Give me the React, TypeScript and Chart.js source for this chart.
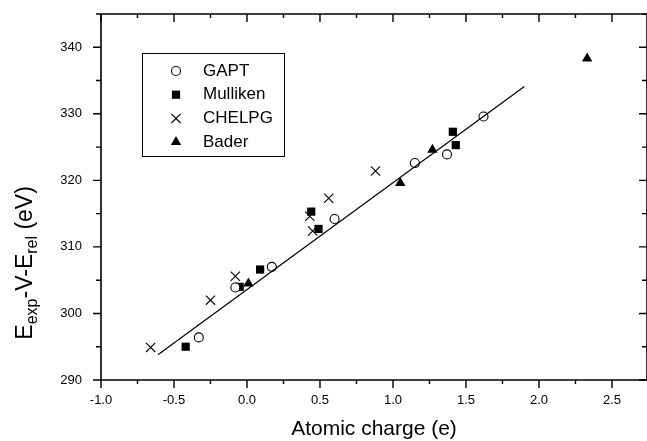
import React, { useEffect, useRef } from "react";
import { Chart, registerables } from "chart.js";

Chart.register(...registerables);

// Atomic charge (e) vs. E_exp - V - E_rel (eV) for four charge schemes
const gaptX = [-0.33, -0.08, 0.17, 0.6, 1.15, 1.37, 1.62];
const gaptY = [296.4, 303.9, 307.0, 314.2, 322.6, 323.9, 329.6];

const mullikenX = [-0.42, -0.05, 0.09, 0.44, 0.49, 1.41, 1.43];
const mullikenY = [295.0, 304.0, 306.6, 315.3, 312.7, 327.3, 325.3];

const chelpgX = [-0.66, -0.25, -0.08, 0.43, 0.45, 0.56, 0.88];
const chelpgY = [294.9, 302.0, 305.6, 314.6, 312.4, 317.3, 321.4];

const baderX = [0.01, 1.05, 1.27, 2.33];
const baderY = [304.5, 319.6, 324.6, 338.3];

// linear fit, drawn between its two end points
const fitX = [-0.61, 1.9];
const fitY = [293.8, 334.1];

const xTickValues = [-1.0, -0.5, 0.0, 0.5, 1.0, 1.5, 2.0, 2.5];
const xTickLabels = ["-1.0", "-0.5", "0.0", "0.5", "1.0", "1.5", "2.0", "2.5"];
const yTickValues = [290, 300, 310, 320, 330, 340];
const yTickLabels = ["290", "300", "310", "320", "330", "340"];

const X_MIN = -1.0;
const X_MAX = 2.74;
const Y_MIN = 290;
const Y_MAX = 345;
const X_MINOR = 0.25;
const Y_MINOR = 5;

const FONT = "'Liberation Sans', Arial, Helvetica, sans-serif";

const toPoints = (xs: number[], ys: number[]) => xs.map((x, i) => ({ x, y: ys[i] }));

// Box frame with ticks: left/bottom ticks point outward, top/right ones point inward
const framePlugin = {
  id: "frame",
  afterDraw(chart: any) {
    const { ctx, chartArea: a, scales } = chart;
    const sx = scales.x;
    const sy = scales.y;
    ctx.save();
    ctx.strokeStyle = "#000";
    ctx.lineWidth = 1.6;
    ctx.beginPath();
    ctx.rect(a.left, a.top, a.right - a.left, a.bottom - a.top);
    ctx.stroke();

    ctx.lineWidth = 1.4;
    ctx.beginPath();
    const nx = Math.round((X_MAX - X_MIN) / X_MINOR);
    for (let i = 0; i <= nx; i++) {
      const v = X_MIN + i * X_MINOR;
      if (v > X_MAX + 1e-9) break;
      const px = sx.getPixelForValue(v);
      const major = i % 2 === 0;
      const len = major ? 8 : 4;
      ctx.moveTo(px, a.bottom);
      ctx.lineTo(px, a.bottom + len);
      ctx.moveTo(px, a.top);
      ctx.lineTo(px, a.top + len);
    }
    const ny = Math.round((Y_MAX - Y_MIN) / Y_MINOR);
    for (let i = 0; i <= ny; i++) {
      const v = Y_MIN + i * Y_MINOR;
      const py = sy.getPixelForValue(v);
      const major = i % 2 === 0;
      const len = major ? 8 : 5;
      ctx.moveTo(a.left - len, py);
      ctx.lineTo(a.left, py);
      ctx.moveTo(a.right - len, py);
      ctx.lineTo(a.right, py);
    }
    ctx.stroke();
    ctx.restore();
  },
};

// Axis titles; the y title carries subscripts
const titlePlugin = {
  id: "titles",
  afterDraw(chart: any) {
    const { ctx, chartArea: a } = chart;
    ctx.save();
    ctx.fillStyle = "#000";
    ctx.textBaseline = "middle";

    ctx.font = `21px ${FONT}`;
    ctx.textAlign = "center";
    ctx.fillText("Atomic charge (e)", (a.left + a.right) / 2, a.bottom + 49);

    const parts = [
      { t: "E", sub: false },
      { t: "exp", sub: true },
      { t: "-V-E", sub: false },
      { t: "rel", sub: true },
      { t: " (eV)", sub: false },
    ];
    const big = `23px ${FONT}`;
    const small = `16px ${FONT}`;
    let total = 0;
    for (const p of parts) {
      ctx.font = p.sub ? small : big;
      total += ctx.measureText(p.t).width;
    }
    ctx.translate(a.left - 75, a.top + (a.bottom - a.top) * 0.68);
    ctx.rotate(-Math.PI / 2);
    ctx.textAlign = "left";
    let cx = -total / 2;
    for (const p of parts) {
      ctx.font = p.sub ? small : big;
      ctx.fillText(p.t, cx, p.sub ? 7 : 0);
      cx += ctx.measureText(p.t).width;
    }
    ctx.restore();
  },
};

function drawMarker(
  ctx: CanvasRenderingContext2D,
  style: string,
  r: number,
  x: number,
  y: number,
  fill: string,
  lw: number
) {
  ctx.beginPath();
  ctx.lineWidth = lw;
  ctx.strokeStyle = "#000";
  ctx.fillStyle = fill;
  if (style === "circle") {
    ctx.arc(x, y, r, 0, Math.PI * 2);
    ctx.fill();
    ctx.stroke();
  } else if (style === "rect") {
    const s = Math.SQRT1_2 * r;
    ctx.rect(x - s, y - s, 2 * s, 2 * s);
    ctx.fill();
  } else if (style === "crossRot") {
    const s = Math.SQRT1_2 * r;
    ctx.moveTo(x - s, y - s);
    ctx.lineTo(x + s, y + s);
    ctx.moveTo(x - s, y + s);
    ctx.lineTo(x + s, y - s);
    ctx.stroke();
  } else if (style === "triangle") {
    let rad = 0;
    ctx.moveTo(x + Math.sin(rad) * r, y - Math.cos(rad) * r);
    rad += (2 * Math.PI) / 3;
    ctx.lineTo(x + Math.sin(rad) * r, y - Math.cos(rad) * r);
    rad += (2 * Math.PI) / 3;
    ctx.lineTo(x + Math.sin(rad) * r, y - Math.cos(rad) * r);
    ctx.closePath();
    ctx.fill();
  }
}

// Boxed legend inside the plot area
const legendPlugin = {
  id: "boxLegend",
  afterDraw(chart: any) {
    const { ctx, chartArea: a } = chart;
    const left = a.left + 41;
    const top = a.top + 39;
    const w = 142;
    const h = 103;
    ctx.save();
    ctx.fillStyle = "#fff";
    ctx.fillRect(left, top, w, h);
    ctx.strokeStyle = "#000";
    ctx.lineWidth = 1;
    ctx.strokeRect(left + 0.5, top + 0.5, w, h);
    const items = chart.data.datasets.filter((d: any) => d.showInLegend);
    items.forEach((d: any, i: number) => {
      const y = top + 18 + i * 23.7;
      ctx.save();
      drawMarker(ctx, d.pointStyle, d.pointRadius, left + 34, y, d.backgroundColor, d.borderWidth);
      ctx.restore();
      ctx.fillStyle = "#000";
      ctx.font = `17px ${FONT}`;
      ctx.textAlign = "left";
      ctx.textBaseline = "middle";
      ctx.fillText(d.label, left + 61, y);
    });
    ctx.restore();
  },
};

export default function App() {
  const ref = useRef<HTMLCanvasElement | null>(null);

  useEffect(() => {
    document.body.style.margin = "0";
    const canvas = ref.current;
    if (!canvas) return;

    const chart = new Chart(canvas, {
      type: "scatter",
      data: {
        datasets: [
          {
            label: "fit",
            data: toPoints(fitX, fitY),
            showLine: true,
            borderColor: "#000",
            borderWidth: 1.2,
            pointRadius: 0,
            pointHoverRadius: 0,
            showInLegend: false,
          } as any,
          {
            label: "GAPT",
            data: toPoints(gaptX, gaptY),
            pointStyle: "circle",
            pointRadius: 4.5,
            backgroundColor: "#fff",
            borderColor: "#000",
            borderWidth: 1.1,
            showInLegend: true,
          } as any,
          {
            label: "Mulliken",
            data: toPoints(mullikenX, mullikenY),
            pointStyle: "rect",
            pointRadius: 5.8,
            backgroundColor: "#000",
            borderColor: "#000",
            borderWidth: 0,
            showInLegend: true,
          } as any,
          {
            label: "CHELPG",
            data: toPoints(chelpgX, chelpgY),
            pointStyle: "crossRot",
            pointRadius: 6.5,
            backgroundColor: "#000",
            borderColor: "#000",
            borderWidth: 1.1,
            showInLegend: true,
          } as any,
          {
            label: "Bader",
            data: toPoints(baderX, baderY),
            pointStyle: "triangle",
            pointRadius: 6,
            backgroundColor: "#000",
            borderColor: "#000",
            borderWidth: 0,
            showInLegend: true,
          } as any,
        ],
      },
      options: {
        animation: false,
        responsive: false,
        devicePixelRatio: 1,
        layout: { autoPadding: false, padding: { left: 0, top: 14, right: 0, bottom: 0 } },
        plugins: {
          legend: { display: false },
          tooltip: { enabled: false },
          title: { display: false },
        },
        scales: {
          x: {
            type: "linear",
            min: X_MIN,
            max: X_MAX,
            grid: { display: false, drawTicks: false },
            border: { display: false },
            afterBuildTicks: (scale: any) => {
              scale.ticks = xTickValues.map((value) => ({ value }));
            },
            afterFit: (scale: any) => {
              scale.height = 61;
              scale.paddingLeft = 0;
              scale.paddingRight = 0;
            },
            ticks: {
              padding: 13,
              color: "#000",
              font: { family: FONT, size: 13 },
              maxRotation: 0,
              autoSkip: false,
              callback: (v: any) => {
                const i = xTickValues.findIndex((t) => Math.abs(t - Number(v)) < 1e-9);
                return i >= 0 ? xTickLabels[i] : "";
              },
            },
          },
          y: {
            type: "linear",
            min: Y_MIN,
            max: Y_MAX,
            grid: { display: false, drawTicks: false },
            border: { display: false },
            afterBuildTicks: (scale: any) => {
              scale.ticks = yTickValues.map((value) => ({ value }));
            },
            afterFit: (scale: any) => {
              scale.width = 101;
              scale.paddingTop = 0;
              scale.paddingBottom = 0;
            },
            ticks: {
              padding: 19,
              color: "#000",
              font: { family: FONT, size: 13 },
              autoSkip: false,
              callback: (v: any) => {
                const i = yTickValues.findIndex((t) => Math.abs(t - Number(v)) < 1e-9);
                return i >= 0 ? yTickLabels[i] : "";
              },
            },
          },
        },
      },
      plugins: [framePlugin, titlePlugin, legendPlugin],
    });

    return () => chart.destroy();
  }, []);

  return (
    <div style={{ width: 647, height: 441, background: "#fff" }}>
      <canvas ref={ref} width={647} height={441} style={{ display: "block" }} />
    </div>
  );
}
